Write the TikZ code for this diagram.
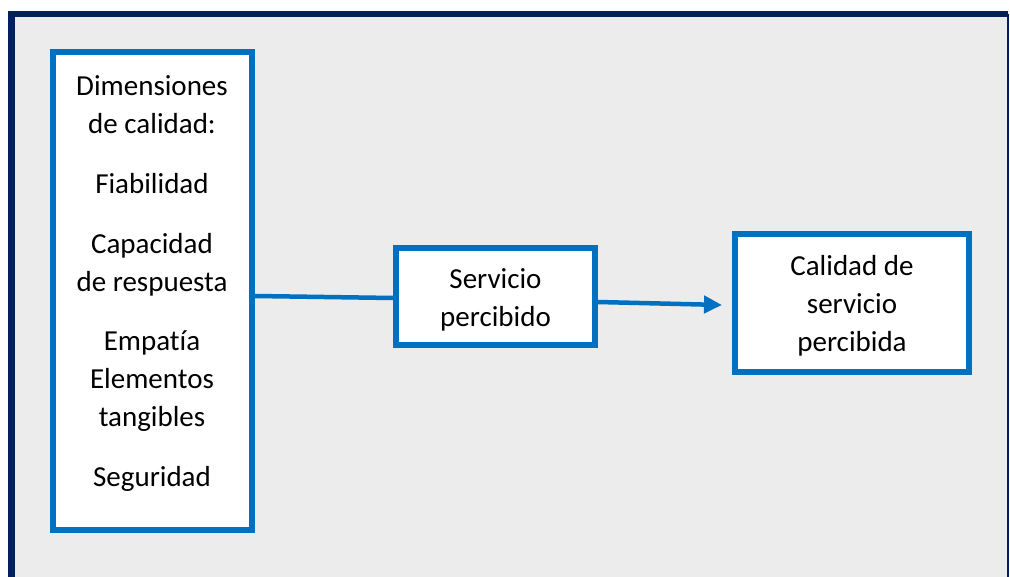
\documentclass[tikz,border=0pt]{standalone}
\usepackage{fontspec}
\setmainfont{Carlito}[Ligatures=CommonOff]
\usetikzlibrary{positioning}
\usetikzlibrary{arrows.meta}
\usetikzlibrary{calc}

\definecolor{frameblue}{HTML}{002060}
\definecolor{boxblue}{HTML}{0070C0}
\definecolor{panelgray}{HTML}{ECECEC}

\begin{document}
\begin{tikzpicture}[x=1pt,y=-1pt]

\def\BoxLine{6pt}
\def\EdgeLine{4.5pt}
\def\TopStrut{\rule{0pt}{26pt}}

% Styles
\tikzstyle{box} =
	[text centered, align=center, font=\fontsize{29}{38}\selectfont]

\tikzstyle{module} =
	[box, draw=boxblue, fill=white, line width=\BoxLine, inner sep=0pt]

\tikzstyle{frame} =
	[frameblue, line width=6.5pt]

\tikzstyle{link} =
	[boxblue, line width=\EdgeLine]

\useasboundingbox (0,0) rectangle (1010,577);

% Background
\fill[panelgray] (11.5,14) rectangle (1008,577);
\draw[frame] (11.5,577) -- (11.5,14) -- (1008,14);
\draw[frameblue, line width=2pt] (1008,14) -- (1008,577);

% Modules

\node (DimBox) [module, minimum width=199, minimum height=478] at (152.5,291) {};
\node (DimList) [box] at (152,284)
	{Dimensiones\\de calidad:\\[22pt]Fiabilidad\\[22pt]Capacidad\\de respuesta\\[21pt]Empatía\\Elementos\\tangibles\\[22pt]Seguridad};

\node (Servicio) [module, minimum width=199, minimum height=97] at (495.5,296.5)
	{\TopStrut Servicio\\percibido};
\node (Calidad) [module, minimum width=234, minimum height=138] at (852,303)
	{\TopStrut Calidad de\\servicio\\percibida};

% Edges

\draw[link] ([yshift=-5]DimBox.east) -- ([yshift=-1.5]Servicio.west);
\draw[link, -{Triangle[length=18pt,width=17pt]}]
	([yshift=-5.5]Servicio.east) -- ([xshift=-10,yshift=-2]Calidad.west);

\end{tikzpicture}
\end{document}
